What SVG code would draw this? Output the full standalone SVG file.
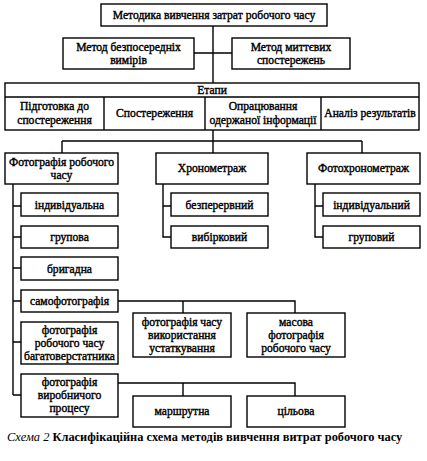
<svg xmlns="http://www.w3.org/2000/svg" width="427" height="461" viewBox="0 0 427 461">
<style>
rect{fill:#fff;stroke:#000;stroke-width:1.4}
.c{fill:none;stroke:#000;stroke-width:1.4}
text{font-family:"Liberation Serif","Times New Roman",serif;font-size:11.6px;text-anchor:middle;fill:#000;stroke:#000;stroke-width:0.4}
.cap{text-anchor:start}
</style>
<rect x="0" y="0" width="427" height="461" style="stroke:none"/>
<g id="connectors">
<path class="c" d="M213 26V83M194 53H232M213 130V141M62 141H362M62 141V153M213 141V153M362 141V153"/>
<path class="c" d="M13 184V395M13 206H21M13 237H21M13 268H21M13 301H21M13 342H21M13 395H21"/>
<path class="c" d="M163 184V237H171M163 206H171"/>
<path class="c" d="M315 184V237H323M315 206H323"/>
<path class="c" d="M118 301H295V313M183 301V313"/>
<path class="c" d="M118 383H295V396M183 383V396"/>
</g>
<g id="n-root"><rect x="101" y="4" width="226" height="22"/><text x="214" y="19">Методика вивчення затрат робочого часу</text></g>
<g id="n-direct"><rect x="63" y="38" width="131" height="31"/><text x="128.5" y="51">Метод безпосередніх</text><text x="128.5" y="64">вимірів</text></g>
<g id="n-instant"><rect x="232" y="38" width="118" height="31"/><text x="291" y="51">Метод миттєвих</text><text x="291" y="64">спостережень</text></g>
<g id="n-stages">
<rect x="5" y="83" width="414" height="47"/>
<path class="c" d="M5 97H419M104 97V130M205 97V130M321 97V130"/>
<text x="212" y="94">Етапи</text>
<text x="54.5" y="110">Підготовка до</text><text x="54.5" y="124">спостереження</text>
<text x="154.5" y="117">Спостереження</text>
<text x="263" y="110">Опрацювання</text><text x="263" y="124">одержаної інформації</text>
<text x="370" y="117">Аналіз результатів</text>
</g>
<g id="n-photo"><rect x="5" y="153" width="113" height="31"/><text x="61.5" y="166">Фотографія робочого</text><text x="61.5" y="179">часу</text></g>
<g id="n-chrono"><rect x="156" y="153" width="112" height="31"/><text x="212" y="172">Хронометраж</text></g>
<g id="n-photochrono"><rect x="307" y="153" width="113" height="31"/><text x="363.5" y="172">Фотохронометраж</text></g>
<g id="n-ind"><rect x="21" y="193" width="97" height="23"/><text x="69.5" y="208.5">індивідуальна</text></g>
<g id="n-grp"><rect x="21" y="226" width="97" height="22"/><text x="69.5" y="241">групова</text></g>
<g id="n-brig"><rect x="21" y="257" width="97" height="23"/><text x="69.5" y="272.5">бригадна</text></g>
<g id="n-self"><rect x="21" y="290" width="97" height="22"/><text x="69.5" y="305">самофотографія</text></g>
<g id="n-multi"><rect x="21" y="322" width="97" height="42"/><text x="69.5" y="334">фотографія</text><text x="69.5" y="347">робочого часу</text><text x="69.5" y="360">багатоверстатника</text></g>
<g id="n-proc"><rect x="21" y="374" width="97" height="43"/><text x="69.5" y="386">фотографія</text><text x="69.5" y="399">виробничого</text><text x="69.5" y="412">процесу</text></g>
<g id="n-cont"><rect x="171" y="193" width="97" height="23"/><text x="219.5" y="208.5">безперервний</text></g>
<g id="n-sel"><rect x="171" y="226" width="97" height="22"/><text x="219.5" y="241">вибірковий</text></g>
<g id="n-ind2"><rect x="323" y="193" width="97" height="23"/><text x="371.5" y="208.5">індивідуальний</text></g>
<g id="n-grp2"><rect x="323" y="226" width="97" height="22"/><text x="371.5" y="241">груповий</text></g>
<g id="n-equip"><rect x="133" y="313" width="98" height="44"/><text x="182" y="326">фотографія часу</text><text x="182" y="339">використання</text><text x="182" y="352">устаткування</text></g>
<g id="n-mass"><rect x="247" y="313" width="98" height="44"/><text x="296" y="326">масова</text><text x="296" y="339">фотографія</text><text x="296" y="352">робочого часу</text></g>
<g id="n-route"><rect x="133" y="396" width="98" height="31"/><text x="182" y="415">маршрутна</text></g>
<g id="n-target"><rect x="247" y="396" width="98" height="31"/><text x="296" y="415">цільова</text></g>
<text class="cap" x="7" y="441" style="stroke:none;font-size:12.4px"><tspan style="font-style:italic">Схема 2</tspan>  <tspan style="font-weight:bold">Класифікаційна схема методів вивчення витрат робочого часу</tspan></text>
</svg>
